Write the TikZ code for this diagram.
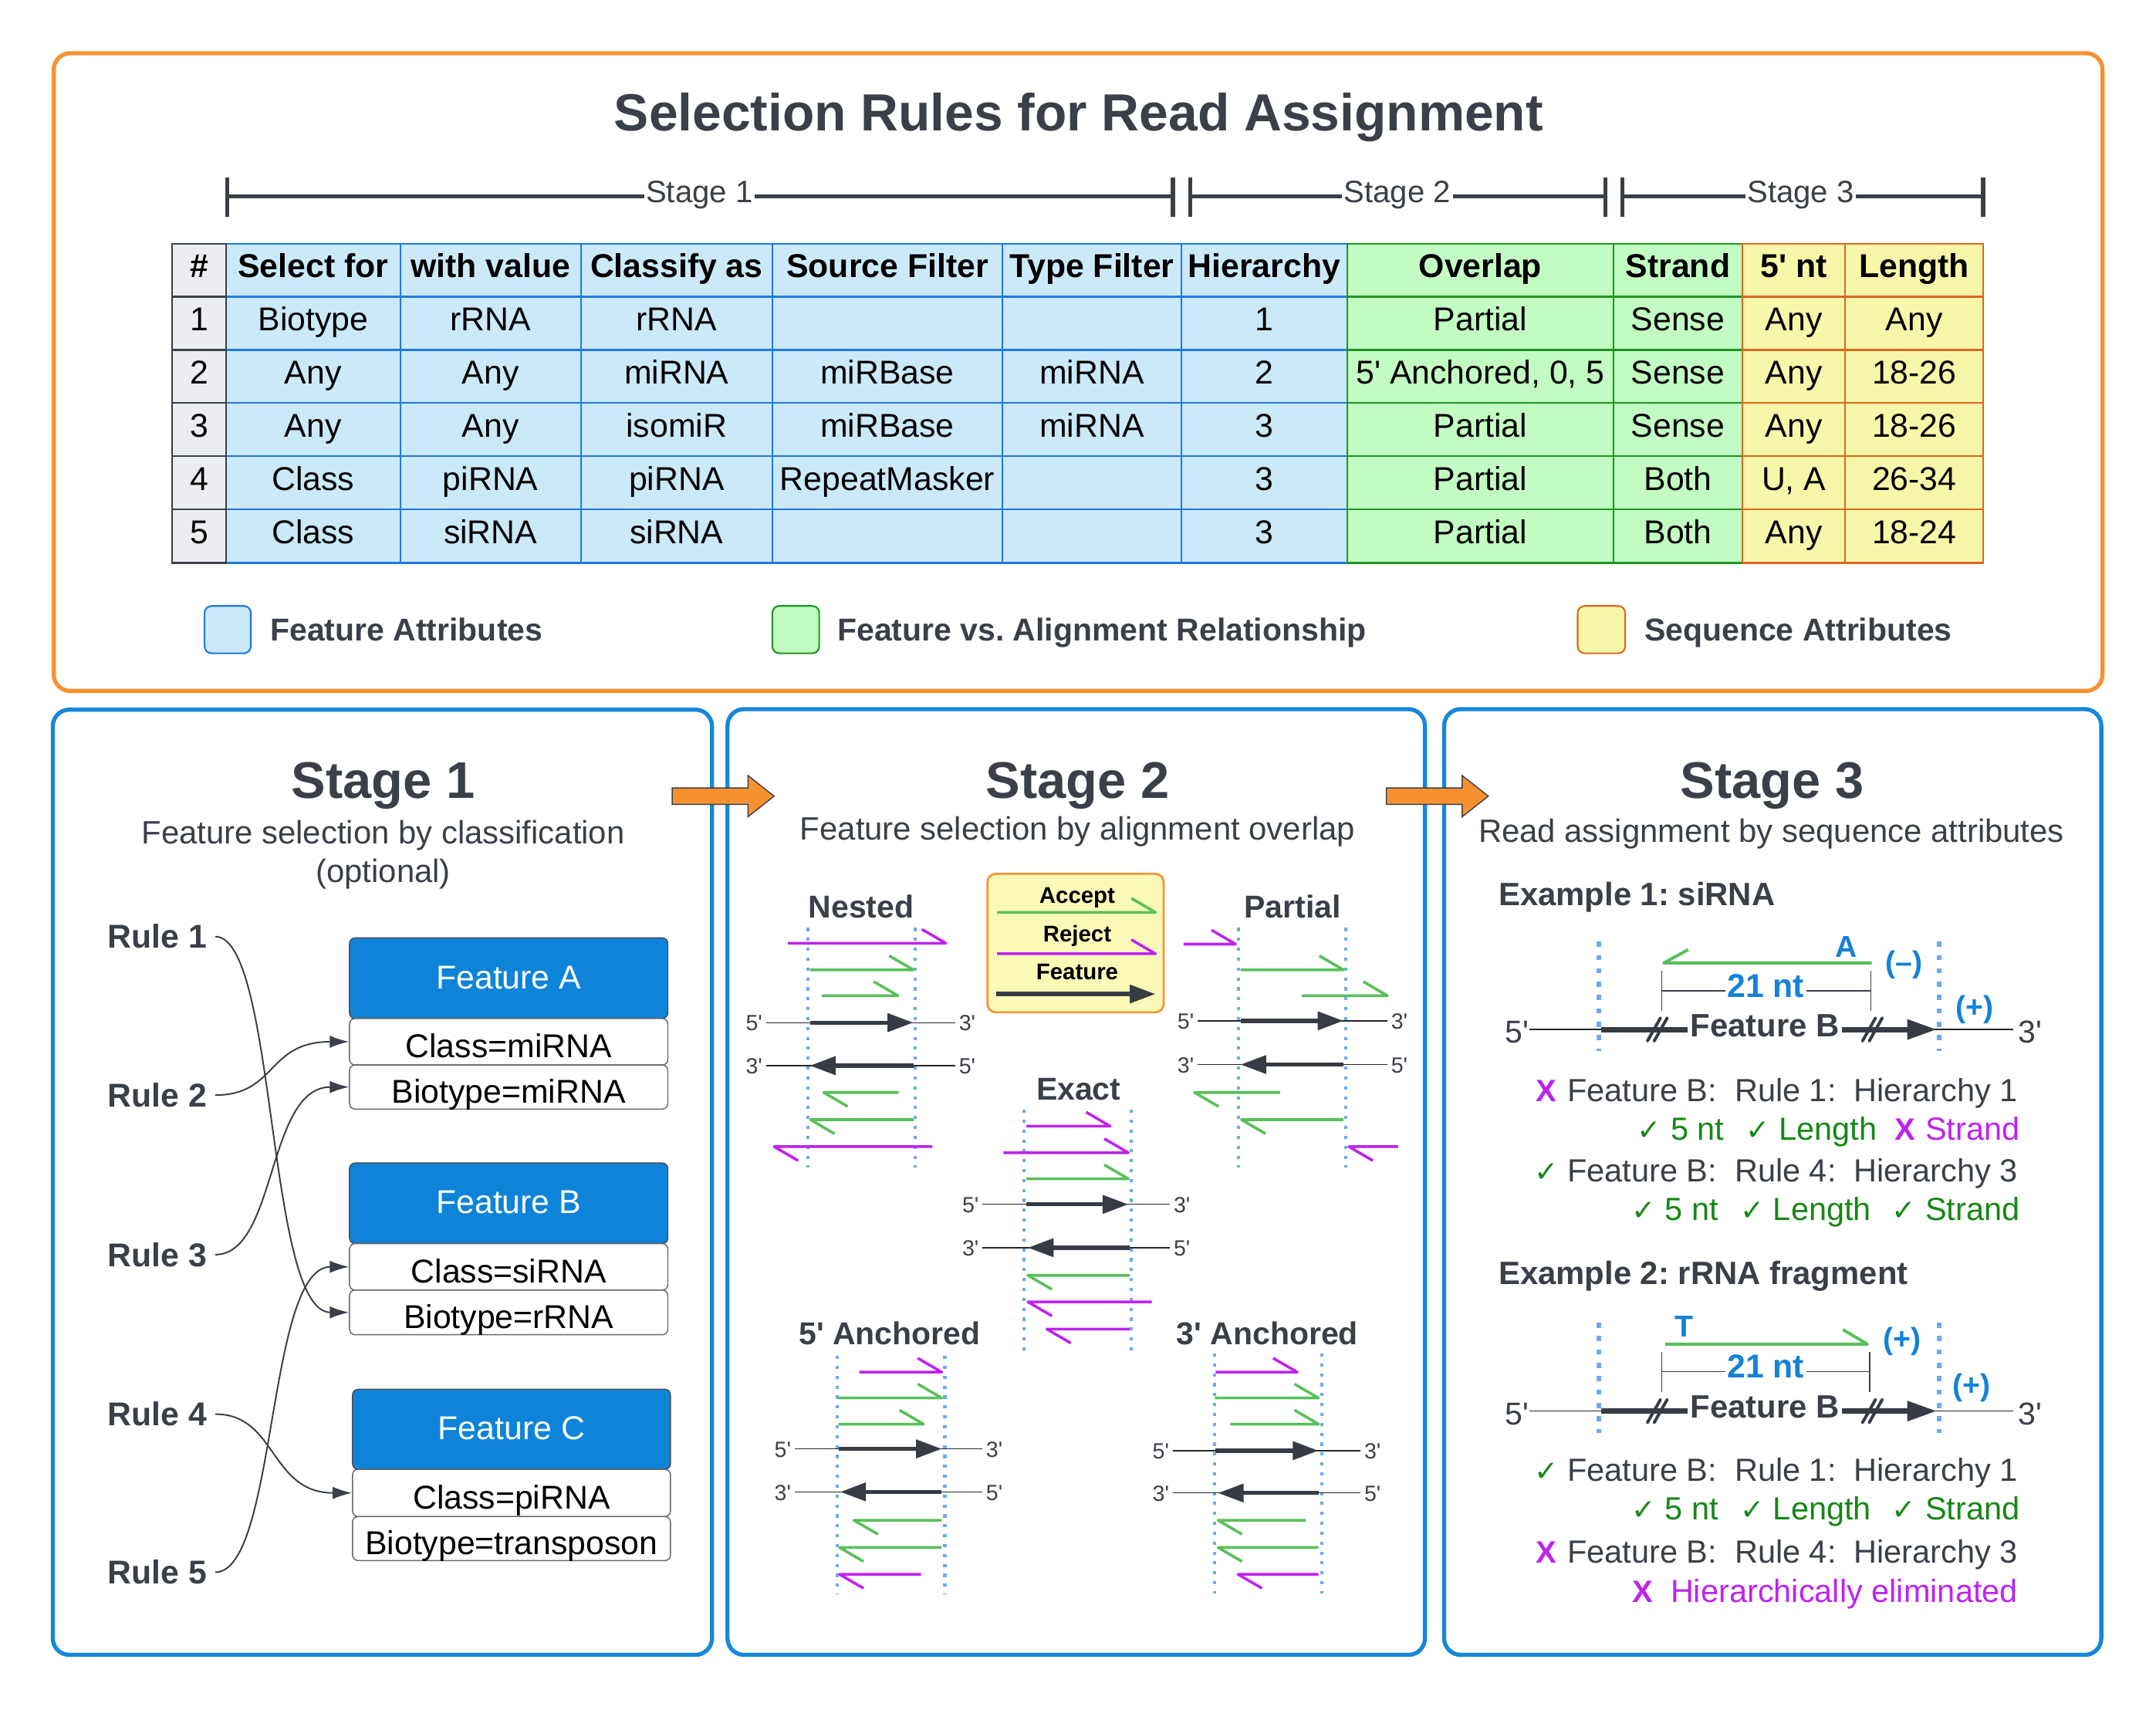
\documentclass[tikz,border=0pt]{standalone}
\usepackage{fontspec}
\setmainfont{Liberation Sans}[Ligatures=TeXOff]
\newfontfamily\djv{DejaVu Sans}
\usetikzlibrary{arrows.meta}
\frenchspacing
\newcommand\fs[1]{\fontsize{#1}{#1}\selectfont}
\definecolor{dgray}{RGB}{58,63,72}
\definecolor{orng}{RGB}{247,146,50}
\definecolor{pblue}{RGB}{22,135,218}
\definecolor{fblue}{RGB}{14,132,216}
\definecolor{dotblue}{RGB}{108,170,240}
\definecolor{tblue}{RGB}{20,130,215}
\definecolor{rgreen}{RGB}{88,192,90}
\definecolor{rpurp}{RGB}{190,35,240}
\definecolor{tgreen}{RGB}{22,135,22}
\definecolor{cellblue}{RGB}{204,233,249}
\definecolor{bordblue}{RGB}{28,122,224}
\definecolor{cellgreen}{RGB}{194,252,194}
\definecolor{bordgreen}{RGB}{30,150,30}
\definecolor{cellyel}{RGB}{247,247,170}
\definecolor{bordorng}{RGB}{222,102,32}
\definecolor{cellgray}{RGB}{236,237,240}
\definecolor{featdark}{RGB}{54,59,68}
\definecolor{legyel}{RGB}{250,249,183}
\tikzset{
 ttxt/.style={anchor=base, inner sep=0, font=\fs{24}},
 hdr/.style={font=\bfseries\fs{24}},
 bdy/.style={},
 barln/.style={line width=3, draw=dgray},
 stglbl/.style={anchor=base, fill=white, inner sep=1.5, font=\fs{22.5}, text=dgray},
 leglbl/.style={anchor=base west, inner sep=0, font=\bfseries\fs{23}, text=dgray},
 panel/.style={draw=pblue, line width=3, rounded corners=12},
 ptitle/.style={anchor=base, inner sep=0, font=\bfseries\fs{37.5}, text=dgray},
 psub/.style={anchor=base, inner sep=0, font=\fs{23.5}, text=dgray},
 rulelbl/.style={anchor=base east, inner xsep=6, inner ysep=0, font=\bfseries\fs{24}, text=dgray},
 fhead/.style={draw=black!70, line width=0.8, fill=fblue, rounded corners=4, inner sep=0, text=white, font=\fs{24}, text height=15.2pt, text depth=0pt},
 frow/.style={draw=black!60, line width=0.8, fill=white, rounded corners=4, inner sep=0, text=black, font=\fs{24}, text height=23pt, text depth=0pt},
 conn/.style={draw=dgray, line width=1.1, -{Latex[length=14pt,width=9pt]}},
 dotln/.style={draw=dotblue, line width=2.3, dash pattern=on 2.3pt off 4.9pt},
 readln/.style={line width=2.0, line join=round},
 thinln/.style={draw=black!85, line width=0.7},
 featln/.style={draw=featdark, line width=3, -{Triangle[length=18.7pt,width=13pt]}},
 endlbl/.style={inner sep=0, font=\fs{16}, text=dgray},
 slbl/.style={anchor=base, inner sep=0, font=\bfseries\fs{23}, text=dgray},
 legtxt/.style={anchor=base, inner sep=0, font=\bfseries\fs{16.5}, text=black},
 dotln3/.style={draw=dotblue, line width=3.3, dash pattern=on 3.7pt off 6pt},
 thinln3/.style={draw=black!85, line width=0.9},
 featln3/.style={draw=featdark, line width=3.8, -{Triangle[length=21.5pt,width=14pt]}},
 brkln/.style={draw=dgray, line width=1.0},
 brkmark/.style={draw=featdark, line width=2.2, line cap=round},
 bluebold/.style={anchor=base, inner sep=0, font=\bfseries\fs{22}, text=tblue},
 featlbl/.style={anchor=base, inner xsep=2, inner ysep=1, fill=white, font=\bfseries\fs{23.5}, text=dgray},
 endlbl3/.style={inner sep=0, font=\fs{23}, text=dgray},
 stat/.style={anchor=base east, inner sep=0, font=\fs{23.3}, text=dgray},
 statp/.style={anchor=base west, inner sep=0, font=\fs{23.3}},
 chk/.style={anchor=base west, inner sep=0, font=\djv\fs{21}, text=tgreen},
 xmk/.style={anchor=base west, inner sep=0, font=\bfseries\fs{22.5}, text=rpurp},
 exlbl/.style={anchor=base west, inner sep=0, font=\bfseries\fs{23.5}, text=dgray}
}
\newcommand\trowL[9]{%
 \node[ttxt,#3] (#1a) at (144.85,#2) {#4};
 \node[ttxt,#3] (#1b) at (227.75,#2) {#5};
 \node[ttxt,#3] (#1c) at (356.75,#2) {#6};
 \node[ttxt,#3] (#1d) at (492.05,#2) {#7};
 \node[ttxt,#3] (#1e) at (645.4,#2) {#8};
 \node[ttxt,#3] (#1f) at (794.05,#2) {#9};}
\newcommand\trowR[8]{%
 \node[ttxt,#3] (#1g) at (919.4,#2) {#4};
 \node[ttxt,#3] (#1h) at (1076.6,#2) {#5};
 \node[ttxt,#3] (#1i) at (1220.3,#2) {#6};
 \node[ttxt,#3] (#1j) at (1304.6,#2) {#7};
 \node[ttxt,#3] (#1k) at (1392.15,#2) {#8};}
\newcommand\fr[4]{\draw[readln,#1] (#2,#4) -- (#3,#4) -- ++(-17.5,-10.2);}
\newcommand\rr[4]{\draw[readln,#1] (#2,#4) -- (#3,#4) -- ++(17.5,10.2);}
\newcommand\dotv[3]{\draw[dotln] (#1,#2) -- (#1,#3);}
\newcommand\ffwd[5]{%
 \draw[thinln] (#1,#5) -- (#4,#5);
 \draw[featln] (#2,#5) -- (#3,#5);
 \node[endlbl,anchor=base east] at ({#1-2.5},{#5+6}) {5'};
 \node[endlbl,anchor=base west] at ({#4+2.5},{#5+6}) {3'};}
\newcommand\frev[5]{%
 \draw[thinln] (#1,#5) -- (#4,#5);
 \draw[featln] (#2,#5) -- (#3,#5);
 \node[endlbl,anchor=base east] at ({#1-2.5},{#5+6}) {3'};
 \node[endlbl,anchor=base west] at ({#4+2.5},{#5+6}) {5'};}
\newcommand\brk[2]{\draw[brkmark] ({#1-7.3},{#2+8.4}) -- ({#1+2.2},{#2-8.4}) ({#1-2.4},{#2+8.4}) -- ({#1+7.1},{#2-8.4});}
\newcommand\oarrow[1]{\draw[fill=orng, draw=black!75, line width=0.8] (#1,573) -- ({#1+55.1},573) -- ({#1+55.1},564) -- ({#1+74.1},579) -- ({#1+55.1},594) -- ({#1+55.1},585) -- (#1,585) -- cycle;}
\begin{document}
\begin{tikzpicture}[x=1pt,y=-1pt]
\useasboundingbox (0,0) rectangle (1568,1243.06);
\fill[white] (0,0) rectangle (1568,1243.06);
% ---------- top box ----------
\draw[draw=orng, line width=3, rounded corners=12] (39.1,38.7) rectangle (1529.1,502.5);
\node[anchor=base, inner sep=0, font=\bfseries\fs{38}, text=dgray] (title) at (784.5,95) {Selection Rules for Read Assignment};
% stage bar
\draw[barln] (165.4,142.7) -- (853.1,142.7);
\draw[barln] (165.4,128.8) -- (165.4,157.8) (853.1,128.8) -- (853.1,157.8);
\draw[barln] (865.5,142.7) -- (1167.4,142.7);
\draw[barln] (865.5,128.8) -- (865.5,157.8) (1167.4,128.8) -- (1167.4,157.8);
\draw[barln] (1179.8,142.7) -- (1442.3,142.7);
\draw[barln] (1179.8,128.8) -- (1179.8,157.8) (1442.3,128.8) -- (1442.3,157.8);
\node[stglbl] (sb1) at (508.6,147.5) {Stage 1};
\node[stglbl] (sb2) at (1016.2,147.5) {Stage 2};
\node[stglbl] (sb3) at (1309.6,147.5) {Stage 3};
% table cells
\foreach \xa/\xb in {164.4/291.1,291.1/422.4,422.4/561.7,561.7/729.1,729.1/859.0,859.0/979.8}
 \foreach \ya/\yb in {177.2/215.8,215.8/254.5,254.5/293.1,293.1/331.8,331.8/370.4,370.4/409.4}
  \draw[draw=bordblue, fill=cellblue, line width=1.3] (\xa,\ya) rectangle (\xb,\yb);
\foreach \xa/\xb in {979.8/1173.4,1173.4/1267.2}
 \foreach \ya/\yb in {177.2/215.8,215.8/254.5,254.5/293.1,293.1/331.8,331.8/370.4,370.4/409.4}
  \draw[draw=bordgreen, fill=cellgreen, line width=1.3] (\xa,\ya) rectangle (\xb,\yb);
\foreach \xa/\xb in {1267.2/1342.0,1342.0/1442.3}
 \foreach \ya/\yb in {177.2/215.8,215.8/254.5,254.5/293.1,293.1/331.8,331.8/370.4,370.4/409.4}
  \draw[draw=bordorng, fill=cellyel, line width=1.3] (\xa,\ya) rectangle (\xb,\yb);
\foreach \ya/\yb in {177.2/215.8,215.8/254.5,254.5/293.1,293.1/331.8,331.8/370.4,370.4/409.4}
  \draw[draw=dgray, fill=cellgray, line width=1.3] (125.3,\ya) rectangle (164.4,\yb);
% table text
\trowL{h}{201.9}{hdr}{\#}{Select for}{with value}{Classify as}{Source Filter}{Type Filter}
\trowR{h}{201.9}{hdr}{Hierarchy}{Overlap}{Strand}{5' nt}{Length}
\trowL{p}{240.5}{bdy}{1}{Biotype}{rRNA}{rRNA}{}{}
\trowR{p}{240.5}{bdy}{1}{Partial}{Sense}{Any}{Any}
\trowL{q}{279.2}{bdy}{2}{Any}{Any}{miRNA}{miRBase}{miRNA}
\trowR{q}{279.2}{bdy}{2}{5' Anchored, 0, 5}{Sense}{Any}{18-26}
\trowL{s}{317.8}{bdy}{3}{Any}{Any}{isomiR}{miRBase}{miRNA}
\trowR{s}{317.8}{bdy}{3}{Partial}{Sense}{Any}{18-26}
\trowL{u}{356.5}{bdy}{4}{Class}{piRNA}{piRNA}{RepeatMasker}{}
\trowR{u}{356.5}{bdy}{3}{Partial}{Both}{U, A}{26-34}
\trowL{v}{395.1}{bdy}{5}{Class}{siRNA}{siRNA}{}{}
\trowR{v}{395.1}{bdy}{3}{Partial}{Both}{Any}{18-24}
% legend
\draw[draw=bordblue, fill=cellblue, line width=1.2, rounded corners=5] (148.8,440.7) rectangle (182.4,475.1);
\node[leglbl] (lg1) at (196.4,466.1) {Feature Attributes};
\draw[draw=bordgreen, fill=cellgreen, line width=1.2, rounded corners=5] (561.7,440.7) rectangle (595.8,475.1);
\node[leglbl] (lg2) at (608.8,466.1) {Feature vs. Alignment Relationship};
\draw[draw=bordorng, fill=cellyel, line width=1.2, rounded corners=5] (1147.4,440.7) rectangle (1181.9,475.1);
\node[leglbl] (lg3) at (1195.8,466.1) {Sequence Attributes};
% ---------- panels ----------
\draw[panel] (38.4,516.1) rectangle (517.8,1203.5);
\draw[panel] (529.1,515.7) rectangle (1036.3,1203.5);
\draw[panel] (1050.3,515.7) rectangle (1528.2,1203.5);
\oarrow{488.9}
\oarrow{1008.3}
% ---------- Stage 1 ----------
\node[ptitle] (t1) at (278.7,580.6) {Stage 1};
\node[psub] (t1a) at (278.7,613.5) {Feature selection by classification};
\node[psub] (t1b) at (278.7,641.5) {(optional)};
\node[fhead, minimum width=231.5pt, minimum height=58.6pt] (fA) at (369.95,711.4) {Feature A};
\node[frow, minimum width=231.5pt, minimum height=33.8pt] (fA1) at (369.95,757.6) {Class=miRNA};
\node[frow, minimum width=231.5pt, minimum height=32.1pt] (fA2) at (369.95,790.55) {Biotype=miRNA};
\node[fhead, minimum width=231.5pt, minimum height=58.6pt] (fB) at (369.95,875.1) {Feature B};
\node[frow, minimum width=231.5pt, minimum height=33.8pt] (fB1) at (369.95,921.3) {Class=siRNA};
\node[frow, minimum width=231.5pt, minimum height=32.5pt] (fB2) at (369.95,954.45) {Biotype=rRNA};
\node[fhead, minimum width=231.2pt, minimum height=58.2pt] (fC) at (372,1039.5) {Feature C};
\node[frow, minimum width=231.2pt, minimum height=34.3pt] (fC1) at (372,1085.75) {Class=piRNA};
\node[frow, minimum width=231.2pt, minimum height=32pt] (fC2) at (372,1118.9) {Biotype=transposon};
\node[rulelbl] (r1) at (156.5,689.7) {Rule 1};
\node[rulelbl] (r2) at (156.5,805) {Rule 2};
\node[rulelbl] (r3) at (156.5,921) {Rule 3};
\node[rulelbl] (r4) at (156.5,1037) {Rule 4};
\node[rulelbl] (r5) at (156.5,1152) {Rule 5};
\draw[conn] (r1.east) .. controls +(45,0) and +(-60,0) .. (fB2.west);
\draw[conn] (r2.east) .. controls +(45,0) and +(-60,0) .. (fA1.west);
\draw[conn] (r3.east) .. controls +(45,0) and +(-60,0) .. (fA2.west);
\draw[conn] (r4.east) .. controls +(45,0) and +(-60,0) .. (fC1.west);
\draw[conn] (r5.east) .. controls +(45,0) and +(-60,0) .. (fB1.west);
% ---------- Stage 2 ----------
\node[ptitle] (t2) at (783.7,580.3) {Stage 2};
\node[psub] (t2a) at (783.7,611) {Feature selection by alignment overlap};
% legend box
\node[draw=orng, fill=legyel, line width=1.5, rounded corners=6, minimum width=128.1pt, minimum height=100.7pt, inner sep=0] (legbox) at (782.25,685.85) {};
\node[legtxt] (acc) at (783.4,656.7) {Accept};
\fr{rgreen}{725.1}{840.3}{663.5}
\node[legtxt] (rej) at (783.4,684.8) {Reject};
\fr{rpurp}{725.1}{840.3}{693.6}
\node[legtxt] (fea) at (783.4,712.4) {Feature};
\draw[featln] (724.4,722.9) -- (840.3,722.9);
% Nested
\node[slbl] (nested) at (626.3,667.3) {Nested};
\dotv{587.4}{674.8}{848.9} \dotv{665.8}{674.8}{848.9}
\fr{rpurp}{573}{687.9}{686}
\fr{rgreen}{589}{664.2}{705.3}
\fr{rgreen}{597.6}{653}{724.1}
\ffwd{557.1}{589}{664.2}{694.8}{743.7}
\frev{557.1}{664.2}{589}{694.8}{775}
\rr{rgreen}{653.6}{599}{794.5}
\rr{rgreen}{664.5}{589.4}{814.3}
\rr{rpurp}{678}{563}{833.9}
% Partial
\node[slbl] (partial) at (940.1,667.3) {Partial};
\dotv{900.6}{674.8}{848.9} \dotv{978.6}{674.8}{848.9}
\fr{rpurp}{860.8}{898.6}{686.6}
\fr{rgreen}{902.2}{977}{705.3}
\fr{rgreen}{946.7}{1009}{724.1}
\ffwd{871}{902.2}{977}{1009}{742.4}
\frev{871}{977}{902.2}{1009}{774.2}
\rr{rgreen}{930.9}{868.7}{794.5}
\rr{rgreen}{977}{902.9}{814.3}
\rr{rpurp}{1016.8}{981}{833.9}
% Exact
\node[slbl] (exact) at (784.4,800) {Exact};
\dotv{744.5}{807}{982.3} \dotv{822.9}{807}{982.3}
\fr{rpurp}{746.5}{807.4}{819}
\fr{rpurp}{729.7}{820.6}{838.3}
\fr{rgreen}{746.5}{820.6}{857.3}
\ffwd{714.5}{746.5}{820.6}{850.9}{875.9}
\frev{714.5}{821.6}{747.5}{850.9}{907.4}
\rr{rgreen}{821.6}{747.5}{927.5}
\rr{rpurp}{837.7}{747.5}{946.8}
\rr{rpurp}{821.6}{761.3}{966.6}
% 5' Anchored
\node[slbl] (anch5) at (647,978.1) {5' Anchored};
\dotv{608.8}{986.1}{1159.5} \dotv{687.2}{986.1}{1159.5}
\fr{rpurp}{625}{684.9}{997.9}
\fr{rgreen}{609.8}{684.9}{1016.7}
\fr{rgreen}{609.8}{671.7}{1035.7}
\ffwd{577.9}{609.8}{684.9}{714.5}{1053.7}
\frev{577.9}{684.9}{611.1}{714.5}{1085}
\rr{rgreen}{684.9}{621}{1105.6}
\rr{rgreen}{684.9}{610.5}{1125.4}
\rr{rpurp}{669.8}{610.5}{1144.9}
% 3' Anchored
\node[slbl] (anch3) at (921.7,978.1) {3' Anchored};
\dotv{883.5}{984.3}{1159} \dotv{961.5}{984.3}{1159}
\fr{rpurp}{884.1}{943.4}{997.9}
\fr{rgreen}{883.5}{958.9}{1016.7}
\fr{rgreen}{894.7}{958.9}{1035.7}
\ffwd{852.9}{884.1}{958.9}{989.5}{1055}
\frev{852.9}{958.9}{885.8}{989.5}{1085.8}
\rr{rgreen}{949.7}{885.8}{1105.6}
\rr{rgreen}{958.9}{885.8}{1125.4}
\rr{rpurp}{958.9}{900.3}{1144.9}
% ---------- Stage 3 ----------
\node[ptitle] (t3) at (1288.8,580.3) {Stage 3};
\node[psub] (t3a) at (1288.2,612.5) {Read assignment by sequence attributes};
% Example 1
\node[exlbl] (ex1) at (1089.7,658.5) {Example 1: siRNA};
\draw[dotln3] (1162.8,684.8) -- (1162.8,764.2);
\draw[dotln3] (1410.4,684.8) -- (1410.4,764.2);
\draw[readln,rgreen,line width=2.2] (1361.3,700.3) -- (1210,700.3) -- ++(17.8,-9.7);
\node[bluebold] (ea) at (1343,696.1) {A};
\node[bluebold] (em) at (1384.9,707.4) {(–)};
\draw[brkln] (1208.5,706.1) -- (1208.5,735.4) (1360.6,706.1) -- (1360.6,735.4) (1208.5,720.6) -- (1360.6,720.6);
\node[bluebold, fill=white, inner sep=1.5, font=\bfseries\fs{24}] (nt1) at (1284.1,725.6) {21 nt};
\draw[thinln3] (1112.4,748.7) -- (1464,748.7);
\draw[featln3] (1164.4,748.7) -- (1408.5,748.7);
\brk{1205.4}{748.7} \brk{1361.8}{748.7}
\node[featlbl] (fb1) at (1283.5,753.7) {Feature B};
\node[endlbl3, anchor=base east] (e1l5) at (1112,758.7) {5'};
\node[endlbl3, anchor=base west] (e1l3) at (1467.7,758.7) {3'};
\node[bluebold] (ep1) at (1436.2,739.9) {(+)};
\node[xmk] (e1x1) at (1117,801.3) {X};
\node[stat] (e1s1) at (1467.7,801.3) {Feature B:\ \ Rule 1:\ \ Hierarchy 1};
\node[chk] (e1c1) at (1190.5,829.3) {✓};
\node[statp,text=tgreen] (e1n1) at (1214.8,829.3) {5 nt};
\node[chk] (e1c2) at (1269.3,829.3) {✓};
\node[statp,text=tgreen] (e1n2) at (1293.5,829.3) {Length};
\node[xmk] (e1x2) at (1377.6,829.3) {X};
\node[statp,text=rpurp] (e1n3) at (1400,829.3) {Strand};
\node[chk] (e1c3) at (1115.6,859.6) {✓};
\node[stat] (e1s2) at (1467.7,859.6) {Feature B:\ \ Rule 4:\ \ Hierarchy 3};
\node[chk] (e1c4) at (1186.7,887.7) {✓};
\node[statp,text=tgreen] (e1n4) at (1210.7,887.7) {5 nt};
\node[chk] (e1c5) at (1265.5,887.7) {✓};
\node[statp,text=tgreen] (e1n5) at (1289.4,887.7) {Length};
\node[chk] (e1c6) at (1375.7,887.7) {✓};
\node[statp,text=tgreen] (e1n6) at (1400,887.7) {Strand};
% Example 2
\node[exlbl] (ex2) at (1089.7,934) {Example 2: rRNA fragment};
\draw[dotln3] (1162.8,962) -- (1162.8,1042.2);
\draw[dotln3] (1410.4,962) -- (1410.4,1042.2);
\node[bluebold] (et) at (1224.9,972) {T};
\draw[readln,rgreen,line width=2.2] (1211,977.5) -- (1358.1,977.5) -- ++(-17.8,-10.5);
\node[bluebold] (ep2) at (1383.3,981) {(+)};
\draw[brkln] (1208.5,983.1) -- (1208.5,1012.5) (1359.7,983.1) -- (1359.7,1012.5) (1208.5,997.5) -- (1359.7,997.5);
\node[bluebold, fill=white, inner sep=1.5, font=\bfseries\fs{24}] (nt2) at (1284.1,1002.1) {21 nt};
\draw[thinln3] (1112.4,1026.2) -- (1464,1026.2);
\draw[featln3] (1164.4,1026.2) -- (1408.5,1026.2);
\brk{1205.4}{1026.2} \brk{1361.8}{1026.2}
\node[featlbl] (fb2) at (1283.5,1031.2) {Feature B};
\node[endlbl3, anchor=base east] (e2l5) at (1112,1036.2) {5'};
\node[endlbl3, anchor=base west] (e2l3) at (1467.7,1036.2) {3'};
\node[bluebold] (ep3) at (1433.7,1015) {(+)};
\node[chk] (e2c1) at (1115.6,1077.3) {✓};
\node[stat] (e2s1) at (1467.7,1077.3) {Feature B:\ \ Rule 1:\ \ Hierarchy 1};
\node[chk] (e2c2) at (1186.7,1105.3) {✓};
\node[statp,text=tgreen] (e2n1) at (1210.7,1105.3) {5 nt};
\node[chk] (e2c3) at (1265.5,1105.3) {✓};
\node[statp,text=tgreen] (e2n2) at (1289.4,1105.3) {Length};
\node[chk] (e2c4) at (1375.7,1105.3) {✓};
\node[statp,text=tgreen] (e2n3) at (1400,1105.3) {Strand};
\node[xmk] (e2x1) at (1117.1,1136.8) {X};
\node[stat] (e2s2) at (1467.7,1136.8) {Feature B:\ \ Rule 4:\ \ Hierarchy 3};
\node[xmk] (e2x2) at (1187,1165.4) {X};
\node[stat,text=rpurp] (e2s3) at (1467.7,1165.4) {Hierarchically eliminated};
\end{tikzpicture}
\end{document}
